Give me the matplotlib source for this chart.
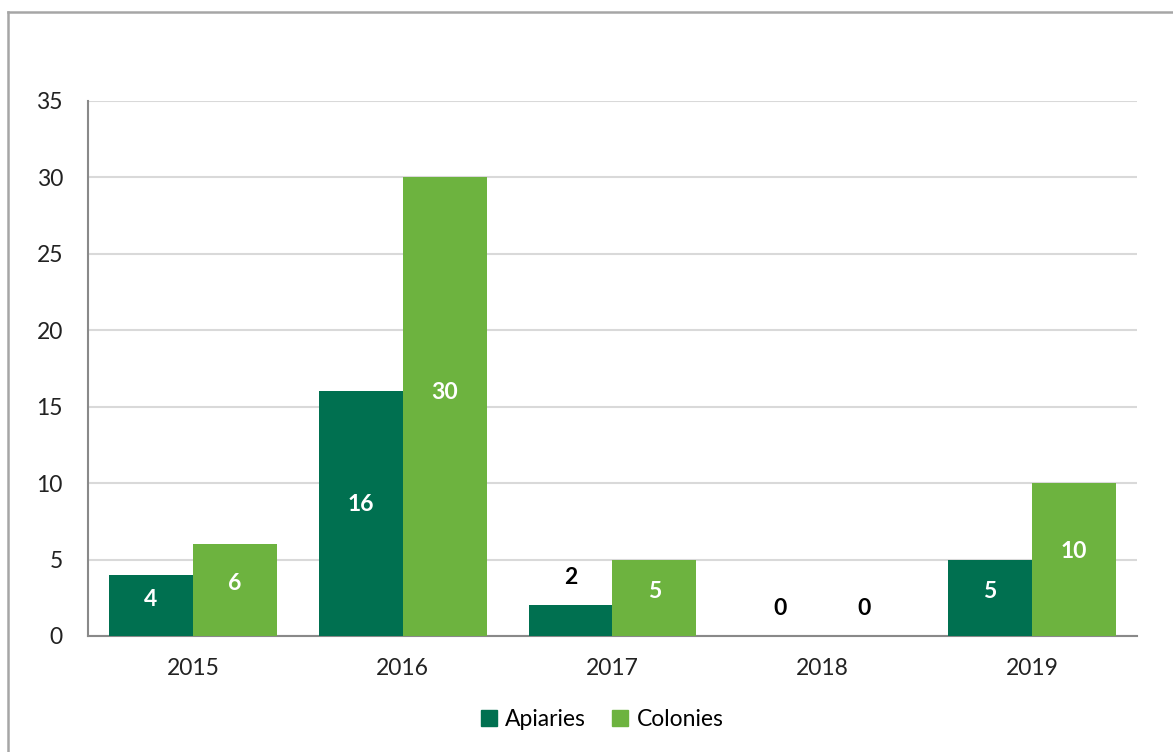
import matplotlib.pyplot as plt
import numpy as np
from matplotlib.lines import Line2D

years = ['2015', '2016', '2017', '2018', '2019']
apiaries = [4, 16, 2, 0, 5]
colonies = [6, 30, 5, 0, 10]

dark_green = '#007050'
light_green = '#6DB33F'

plt.rcParams['font.family'] = ['Lato', 'DejaVu Sans']

fig = plt.figure(figsize=(11.73, 7.52), dpi=100)
ax = fig.add_axes([0.075, 0.1543, 0.8943, 0.7114])

x = np.arange(len(years))
w = 0.4
b1 = ax.bar(x - w / 2, apiaries, w, color=dark_green, label='Apiaries', zorder=3)
b2 = ax.bar(x + w / 2, colonies, w, color=light_green, label='Colonies', zorder=3)

# value labels: white inside tall bars, black above small ones
for bars in (b1, b2):
    for rect in bars:
        v = rect.get_height()
        cx = rect.get_x() + rect.get_width() / 2
        if v >= 4:
            ax.text(cx, v / 2 + 0.02 * v + 0.3, f'{v:g}', ha='center', va='center',
                    color='white', fontsize=16.5, fontweight='bold', zorder=4)
        else:
            ax.annotate(f'{v:g}', (cx, v), xytext=(0, 20), textcoords='offset points',
                        ha='center', va='center', color='black',
                        fontsize=16.5, fontweight='bold', zorder=4)

ax.set_xlim(-0.5, 4.5)
ax.set_ylim(0, 35)
ax.set_yticks(range(0, 36, 5))
ax.set_xticks(x)
ax.set_xticklabels(years)
ax.tick_params(axis='both', length=0, labelsize=16.5, colors='#222222')
ax.tick_params(axis='y', pad=18)
ax.tick_params(axis='x', pad=16)
ax.yaxis.grid(True, color='#D9D9D9', linewidth=1.5, zorder=0)
ax.set_axisbelow(True)
for s in ('top', 'right'):
    ax.spines[s].set_visible(False)
for s in ('left', 'bottom'):
    ax.spines[s].set_color('#898989')
    ax.spines[s].set_linewidth(1.5)

handles = [Line2D([], [], marker='s', linestyle='none', markersize=12, color=dark_green),
           Line2D([], [], marker='s', linestyle='none', markersize=12, color=light_green)]
fig.legend(handles, ['Apiaries', 'Colonies'], loc='center', bbox_to_anchor=(0.512, 0.043),
           ncol=2, frameon=False, fontsize=16.5, handlelength=1.0,
           handletextpad=0.2, columnspacing=1.0)

# outer chart border (left and top edges visible)
fig.add_artist(Line2D([8 / 1173, 8 / 1173], [0, 1 - 12 / 752], transform=fig.transFigure,
                      color='#A6A6A6', linewidth=1.8))
fig.add_artist(Line2D([8 / 1173, 1], [1 - 12 / 752, 1 - 12 / 752], transform=fig.transFigure,
                      color='#A6A6A6', linewidth=1.8))

fig.savefig('out.png', dpi=100)
